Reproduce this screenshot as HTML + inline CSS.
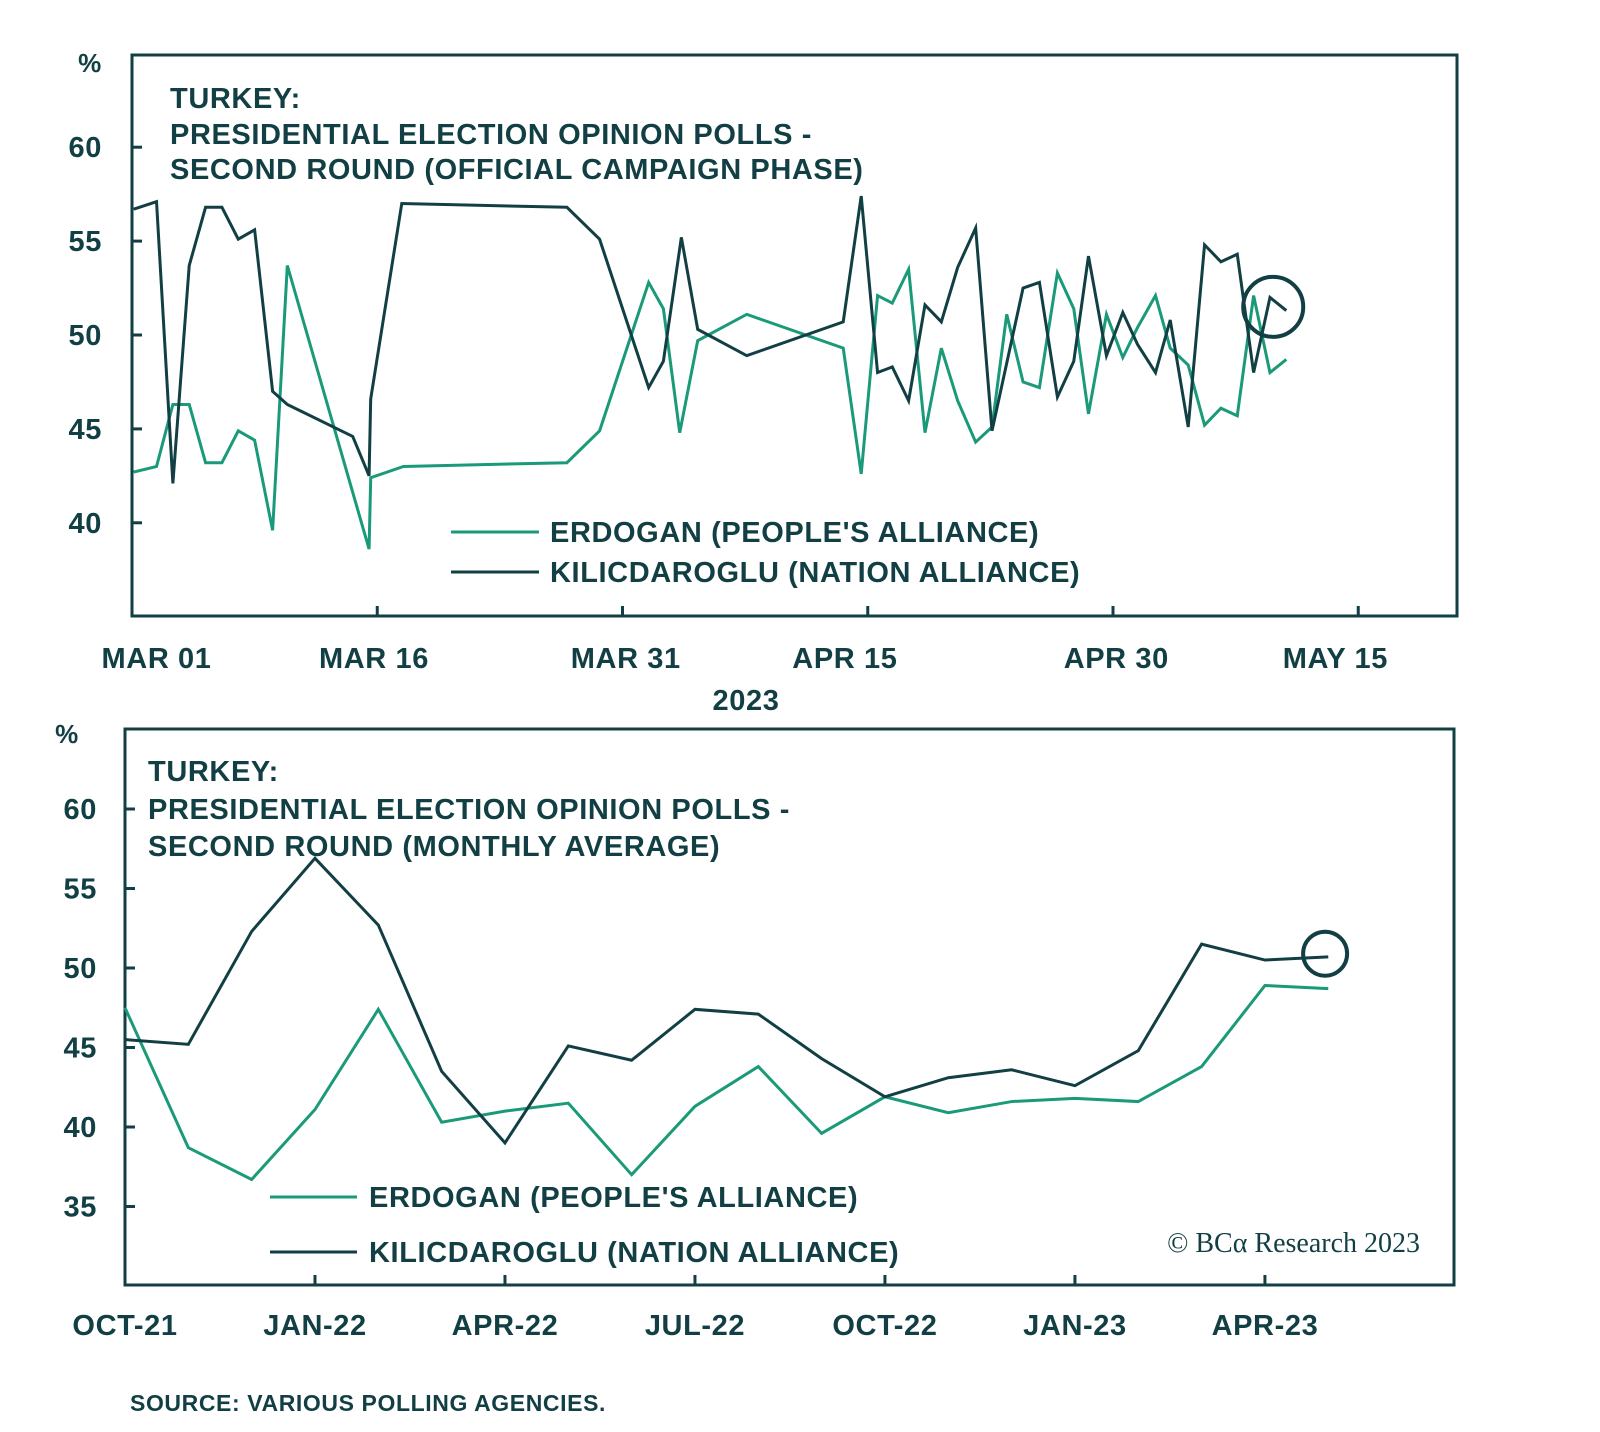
<!DOCTYPE html>
<html><head><meta charset="utf-8"><style>
html,body{margin:0;padding:0;background:#fff;}
svg{display:block;font-family:"Liberation Sans",sans-serif;}
.t{fill:#123f44;font-weight:bold;letter-spacing:0.6px;}
</style></head><body>
<svg id="s" width="1600" height="1432" viewBox="0 0 1600 1432" xmlns="http://www.w3.org/2000/svg">
<g id="topg">
<rect x="132" y="55" width="1325" height="561" fill="none" stroke="#123f44" stroke-width="3"/>
<text class="t" x="90" y="72" font-size="26" text-anchor="middle">%</text>
<text class="t" x="170" y="108" font-size="29">TURKEY:</text>
<text class="t" x="170" y="144" font-size="29">PRESIDENTIAL ELECTION OPINION POLLS -</text>
<text class="t" x="170" y="179" font-size="29">SECOND ROUND (OFFICIAL CAMPAIGN PHASE)</text>
<line x1="451" y1="532" x2="539" y2="532" stroke="#1a9a78" stroke-width="3"/>
<text class="t" x="550" y="542" font-size="29">ERDOGAN (PEOPLE'S ALLIANCE)</text>
<line x1="451" y1="572" x2="539" y2="572" stroke="#123f44" stroke-width="3"/>
<text class="t" x="550" y="582" font-size="29">KILICDAROGLU (NATION ALLIANCE)</text>
<text class="t" x="746" y="710" font-size="29" text-anchor="middle">2023</text>
</g>
<g id="botg">
<rect x="125" y="729" width="1329" height="556" fill="none" stroke="#123f44" stroke-width="3"/>
<text class="t" x="67" y="743" font-size="26" text-anchor="middle">%</text>
<text class="t" x="148" y="781" font-size="29">TURKEY:</text>
<text class="t" x="148" y="819" font-size="29">PRESIDENTIAL ELECTION OPINION POLLS -</text>
<text class="t" x="148" y="856" font-size="29">SECOND ROUND (MONTHLY AVERAGE)</text>
<line x1="270" y1="1197" x2="357" y2="1197" stroke="#1a9a78" stroke-width="3"/>
<text class="t" x="369" y="1207" font-size="29">ERDOGAN (PEOPLE'S ALLIANCE)</text>
<line x1="270" y1="1252" x2="357" y2="1252" stroke="#123f44" stroke-width="3"/>
<text class="t" x="369" y="1262" font-size="29">KILICDAROGLU (NATION ALLIANCE)</text>
<text x="1420" y="1252" font-size="28" text-anchor="end" fill="#123f44" style="font-family:'Liberation Serif',serif">© BCα Research 2023</text>
</g>
<text class="t" x="130" y="1411" font-size="23">SOURCE: VARIOUS POLLING AGENCIES.</text>
</svg>
<script>
// top chart data (day offset from Mar 01, %)
const topKilDays=[0.1,1.5,2.5,3.5,4.5,5.5,6.5,7.5,8.6,9.5,13.5,14.5,14.6,16.5,26.6,28.6,31.6,32.5,33.6,34.6,37.6,43.5,44.6,45.6,46.5,47.5,48.5,49.5,50.5,51.6,52.6,54.5,55.5,56.6,57.6,58.5,59.6,60.6,61.5,62.6,63.5,64.6,65.6,66.6,67.6,68.6,69.6,70.6];
const topKilVals=[56.7,57.1,42.1,53.7,56.8,56.8,55.1,55.6,47.0,46.3,44.6,42.5,46.6,57.0,56.8,55.1,47.2,48.6,55.2,50.3,48.9,50.7,57.4,48.0,48.3,46.5,51.6,50.7,53.6,55.7,44.9,52.5,52.8,46.7,48.6,54.2,48.9,51.2,49.5,48.0,50.8,45.1,54.8,53.9,54.3,48.0,52.0,51.3];
const topErdDays=[0.1,1.5,2.5,3.5,4.5,5.5,6.5,7.5,8.6,9.5,14.5,14.6,16.6,26.6,28.6,31.6,32.5,33.5,34.6,37.6,43.5,44.6,45.6,46.5,47.5,48.5,49.5,50.5,51.6,52.6,53.5,54.5,55.5,56.6,57.6,58.5,59.6,60.6,61.5,62.6,63.5,64.6,65.6,66.6,67.6,68.6,69.6,70.6];
const topErdVals=[42.7,43.0,46.3,46.3,43.2,43.2,44.9,44.4,39.6,53.7,38.6,42.4,43.0,43.2,44.9,52.8,51.4,44.8,49.7,51.1,49.3,42.6,52.1,51.7,53.5,44.8,49.3,46.5,44.3,45.1,51.1,47.5,47.2,53.3,51.4,45.8,51.1,48.8,50.4,52.1,49.3,48.4,45.2,46.1,45.7,52.1,48.0,48.7];
const topYTicks=[40,45,50,55,60];
const topXTickDays=[0,15,30,45,60,75];
const topXLabels=["MAR 01","MAR 16","MAR 31","APR 15","APR 30","MAY 15"];
const topXLabelDays=[1.5,14.8,30.2,43.6,60.2,73.6];
const topCircle=[69.8,51.5];
// bottom chart data (month index from Oct-21, %)
const botKilVals=[45.5,45.2,52.3,56.9,52.7,43.5,39.0,45.1,44.2,47.4,47.1,44.3,41.9,43.1,43.6,42.6,44.8,51.5,50.5,50.7];
const botErdVals=[47.5,38.7,36.7,41.1,47.4,40.3,41.0,41.5,37.0,41.3,43.8,39.6,41.9,40.9,41.6,41.8,41.6,43.8,48.9,48.7];
const botYTicks=[35,40,45,50,55,60];
const botXTickMonths=[0,3,6,9,12,15,18];
const botXLabels=["OCT-21","JAN-22","APR-22","JUL-22","OCT-22","JAN-23","APR-23"];
const botCircle=[18.95,50.9];

const NS="http://www.w3.org/2000/svg";
const DARK="#123f44",GREEN="#1a9a78";
function mk(parent,tag,attrs){const e=document.createElementNS(NS,tag);for(const k in attrs)e.setAttribute(k,attrs[k]);parent.appendChild(e);return e;}
const tx=d=>132+d*16.35, ty=v=>335-(v-50)*18.78;
const bx=m=>125+m*63.33, by=v=>968-(v-50)*15.9;
const topG=document.getElementById('topg'), botG=document.getElementById('botg');

topYTicks.forEach(v=>{
  const l=mk(topG,'line',{x1:132,x2:142,y1:ty(v),y2:ty(v),stroke:DARK,'stroke-width':3});
  
  
  const t=mk(topG,'text',{x:102,y:ty(v)+10,'font-size':29,'text-anchor':'end',class:'t'});
  t.textContent=v;
  
  
});
topXTickDays.forEach(d=>{
  const l=mk(topG,'line',{x1:tx(d),x2:tx(d),y1:606,y2:616,stroke:DARK,'stroke-width':3});
  
  
});
topXLabels.forEach((s,i)=>{
  const t=mk(topG,'text',{x:tx(topXLabelDays[i]),y:668,'font-size':29,'text-anchor':'middle',class:'t'});
  t.textContent=s;
  
  
});
function poly(parent,xs,ys,color,name){
  const p=mk(parent,'polyline',{points:xs.map((x,i)=>x+','+ys[i]).join(' '),fill:'none',stroke:color,'stroke-width':3,'stroke-linejoin':'miter'});
  
  
}
poly(topG,topErdDays.map(tx),topErdVals.map(ty),GREEN,'top-erdogan-line');
poly(topG,topKilDays.map(tx),topKilVals.map(ty),DARK,'top-kilicdaroglu-line');
const c1=mk(topG,'circle',{cx:tx(topCircle[0]),cy:ty(topCircle[1]),r:30,fill:'none',stroke:DARK,'stroke-width':4});



botYTicks.forEach(v=>{
  const l=mk(botG,'line',{x1:125,x2:135,y1:by(v),y2:by(v),stroke:DARK,'stroke-width':3});
  
  
  const t=mk(botG,'text',{x:97,y:by(v)+10,'font-size':29,'text-anchor':'end',class:'t'});
  t.textContent=v;
  
  
});
botXTickMonths.forEach((m,i)=>{
  const l=mk(botG,'line',{x1:bx(m),x2:bx(m),y1:1275,y2:1285,stroke:DARK,'stroke-width':3});
  
  
  const t=mk(botG,'text',{x:bx(m),y:1335,'font-size':29,'text-anchor':'middle',class:'t'});
  t.textContent=botXLabels[i];
  
  
});
poly(botG,botErdVals.map((v,i)=>bx(i)),botErdVals.map(by),GREEN,'bottom-erdogan-line');
poly(botG,botKilVals.map((v,i)=>bx(i)),botKilVals.map(by),DARK,'bottom-kilicdaroglu-line');
const c2=mk(botG,'circle',{cx:bx(botCircle[0]),cy:by(botCircle[1]),r:22,fill:'none',stroke:DARK,'stroke-width':4});


</script>
</body></html>
